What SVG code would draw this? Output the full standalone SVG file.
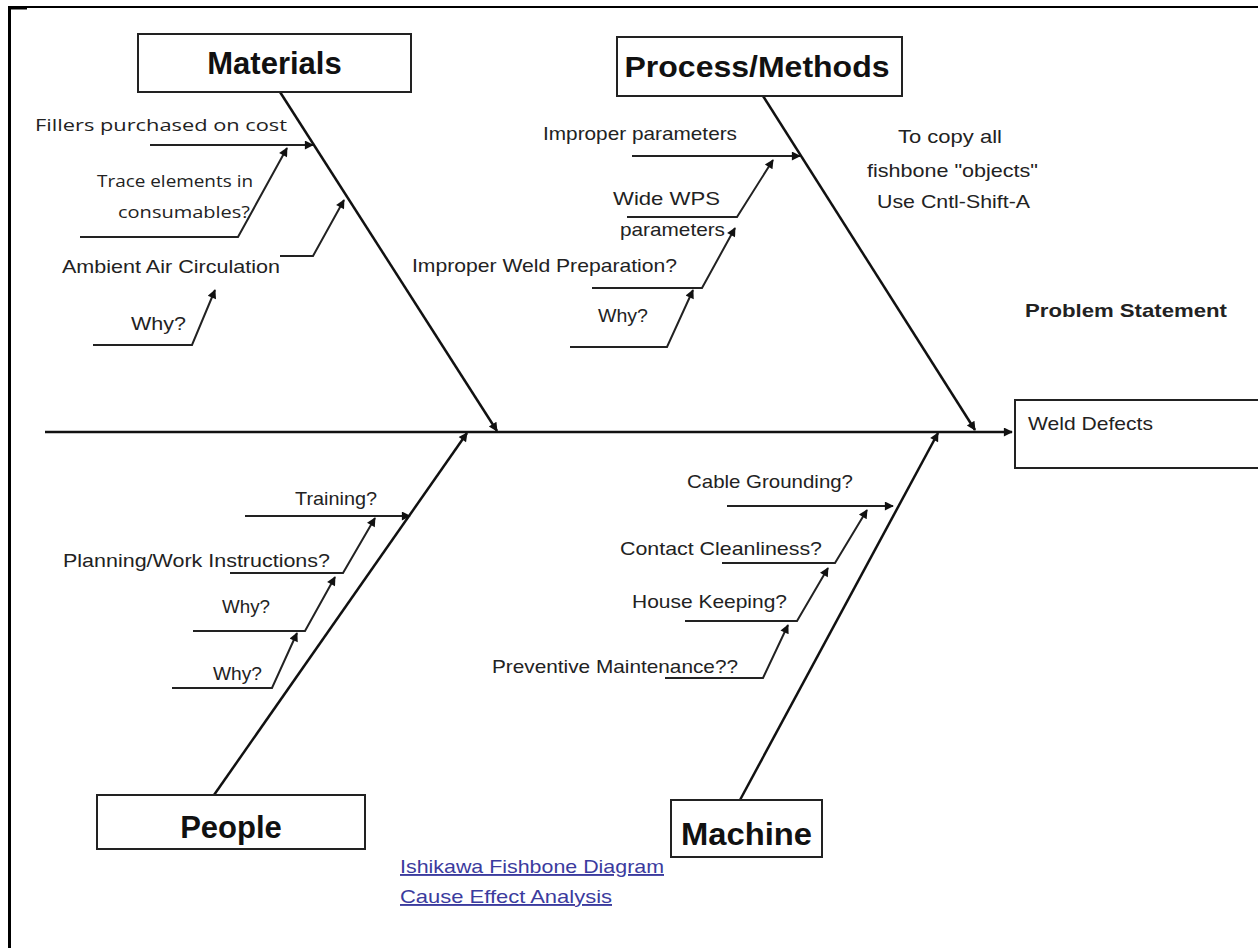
<svg xmlns="http://www.w3.org/2000/svg" width="1258" height="948" viewBox="0 0 1258 948">
<style>
.box{fill:#fff;stroke:#222;stroke-width:2}
.hdr{font-family:"Liberation Sans",Arial,sans-serif;font-weight:bold;fill:#111;text-anchor:middle}
.lbl{font-family:"Liberation Sans",Arial,sans-serif;font-size:19px;fill:#222}
.lbl2{font-family:"Open Sans","Noto Sans",sans-serif;font-size:17px;fill:#222}
.spine{stroke:#111;stroke-width:2.5;fill:none}
.rib{stroke:#222;stroke-width:2;fill:none}
.link{font-family:"Liberation Sans",Arial,sans-serif;font-size:19px;fill:#3b3b9e;text-decoration:underline}
</style>
<defs>
<marker id="ah" viewBox="0 0 10 10" refX="9" refY="5" markerWidth="12" markerHeight="9" markerUnits="userSpaceOnUse" orient="auto">
<path d="M0,0 L10,5 L0,10 z" fill="#111"/>
</marker>
</defs>
<rect width="1258" height="948" fill="#fff"/>
<g id="frame">
<line x1="8" y1="7" x2="1258" y2="7" stroke="#000" stroke-width="2"/>
<line x1="8" y1="8" x2="27" y2="8" stroke="#000" stroke-width="3"/>
<line x1="9.5" y1="6" x2="9.5" y2="948" stroke="#000" stroke-width="3"/>
</g>
<g id="connectors">
<line class="spine" x1="45" y1="432" x2="1012" y2="432" stroke-width="3" marker-end="url(#ah)"/>
<line class="spine" x1="280" y1="92" x2="497" y2="431" marker-end="url(#ah)"/>
<line class="spine" x1="763" y1="96" x2="975" y2="430" marker-end="url(#ah)"/>
<line class="spine" x1="214" y1="795" x2="467" y2="433" marker-end="url(#ah)"/>
<line class="spine" x1="740" y1="800" x2="938" y2="433" marker-end="url(#ah)"/>
<line class="rib" x1="150" y1="145" x2="313" y2="145" marker-end="url(#ah)"/>
<polyline class="rib" points="80,237 238,237 287,148" marker-end="url(#ah)"/>
<polyline class="rib" points="280,256 313,256 344,200" marker-end="url(#ah)"/>
<polyline class="rib" points="93,345 192,345 215,290" marker-end="url(#ah)"/>
<line class="rib" x1="632" y1="156" x2="800" y2="156" marker-end="url(#ah)"/>
<polyline class="rib" points="627,217 737,217 773,160" marker-end="url(#ah)"/>
<polyline class="rib" points="592,288 702,288 735,228" marker-end="url(#ah)"/>
<polyline class="rib" points="570,347 667,347 693,290" marker-end="url(#ah)"/>
<line class="rib" x1="245" y1="516" x2="410" y2="516" marker-end="url(#ah)"/>
<polyline class="rib" points="230,573 343,573 375,518" marker-end="url(#ah)"/>
<polyline class="rib" points="193,631 305,631 335,577" marker-end="url(#ah)"/>
<polyline class="rib" points="172,688 272,688 297,633" marker-end="url(#ah)"/>
<line class="rib" x1="727" y1="506" x2="893" y2="506" marker-end="url(#ah)"/>
<polyline class="rib" points="722,563 835,563 867,510" marker-end="url(#ah)"/>
<polyline class="rib" points="685,621 797,621 828,568" marker-end="url(#ah)"/>
<polyline class="rib" points="665,678 763,678 788,625" marker-end="url(#ah)"/>
</g>
<g id="materials">
<rect class="box" x="138" y="34" width="273" height="58"/>
<text class="hdr" x="274.5" y="74" font-size="31">Materials</text>
</g>
<g id="process">
<rect class="box" x="617" y="37" width="285" height="59"/>
<text class="hdr" x="757" y="77" font-size="30" textLength="265" lengthAdjust="spacingAndGlyphs">Process/Methods</text>
</g>
<g id="people">
<rect class="box" x="97" y="795" width="268" height="54"/>
<text class="hdr" x="231" y="838" font-size="31">People</text>
</g>
<g id="machine">
<rect class="box" x="671" y="800" width="151" height="57"/>
<text class="hdr" x="746.5" y="845" font-size="32" textLength="131" lengthAdjust="spacingAndGlyphs">Machine</text>
</g>
<g id="effect">
<rect class="box" x="1015" y="400" width="250" height="68"/>
<text class="lbl" x="1028" y="430" textLength="125" lengthAdjust="spacingAndGlyphs">Weld Defects</text>
<text class="lbl" x="1025" y="317" font-size="18" font-weight="bold" textLength="202" lengthAdjust="spacingAndGlyphs">Problem Statement</text>
</g>
<g id="note">
<text class="lbl" x="898" y="143" textLength="104" lengthAdjust="spacingAndGlyphs">To copy all</text>
<text class="lbl" x="867" y="177" textLength="171" lengthAdjust="spacingAndGlyphs">fishbone "objects"</text>
<text class="lbl" x="877" y="208" textLength="153" lengthAdjust="spacingAndGlyphs">Use Cntl-Shift-A</text>
</g>
<g id="materials-causes">
<text class="lbl2" x="35" y="131" font-size="19" textLength="252" lengthAdjust="spacingAndGlyphs">Fillers purchased on cost</text>
<text class="lbl2" x="97" y="187" textLength="156" lengthAdjust="spacingAndGlyphs">Trace elements in</text>
<text class="lbl2" x="118" y="218" textLength="132" lengthAdjust="spacingAndGlyphs">consumables?</text>
<text class="lbl" x="62" y="273" textLength="218" lengthAdjust="spacingAndGlyphs">Ambient Air Circulation</text>
<text class="lbl" x="131" y="330" textLength="55" lengthAdjust="spacingAndGlyphs">Why?</text>
</g>
<g id="process-causes">
<text class="lbl" x="543" y="140" textLength="194" lengthAdjust="spacingAndGlyphs">Improper parameters</text>
<text class="lbl" x="613" y="205" textLength="107" lengthAdjust="spacingAndGlyphs">Wide WPS</text>
<text class="lbl" x="620" y="236" textLength="105" lengthAdjust="spacingAndGlyphs">parameters</text>
<text class="lbl" x="412" y="272" textLength="265" lengthAdjust="spacingAndGlyphs">Improper Weld Preparation?</text>
<text class="lbl" x="598" y="322" font-size="17" textLength="50" lengthAdjust="spacingAndGlyphs">Why?</text>
</g>
<g id="people-causes">
<text class="lbl" x="295" y="505" textLength="82" lengthAdjust="spacingAndGlyphs">Training?</text>
<text class="lbl" x="63" y="567" textLength="267" lengthAdjust="spacingAndGlyphs">Planning/Work Instructions?</text>
<text class="lbl" x="222" y="613" font-size="17" textLength="48" lengthAdjust="spacingAndGlyphs">Why?</text>
<text class="lbl" x="213" y="680" font-size="17" textLength="49" lengthAdjust="spacingAndGlyphs">Why?</text>
</g>
<g id="machine-causes">
<text class="lbl" x="687" y="488" textLength="166" lengthAdjust="spacingAndGlyphs">Cable Grounding?</text>
<text class="lbl" x="620" y="555" textLength="202" lengthAdjust="spacingAndGlyphs">Contact Cleanliness?</text>
<text class="lbl" x="632" y="608" textLength="155" lengthAdjust="spacingAndGlyphs">House Keeping?</text>
<text class="lbl" x="492" y="673" textLength="246" lengthAdjust="spacingAndGlyphs">Preventive Maintenance??</text>
</g>
<g id="links">
<text class="link" x="400" y="873" textLength="264" lengthAdjust="spacingAndGlyphs">Ishikawa Fishbone Diagram</text>
<text class="link" x="400" y="903" textLength="212" lengthAdjust="spacingAndGlyphs">Cause Effect Analysis</text>
</g>
</svg>
